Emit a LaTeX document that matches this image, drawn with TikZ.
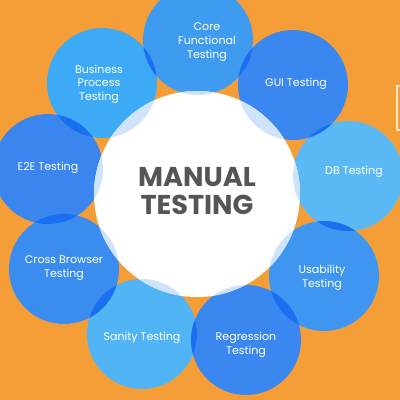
\documentclass[tikz,border=0pt]{standalone}
\usepackage{fontspec}
\setmainfont{Poppins}
\definecolor{bgorange}{HTML}{F59E38}
\definecolor{cCore}{HTML}{3E9BF0}
\definecolor{cBusi}{HTML}{3CAAF5}
\definecolor{cGui}{HTML}{3A87F0}
\definecolor{cDb}{HTML}{5AB9F5}
\definecolor{cUsab}{HTML}{3E96F0}
\definecolor{cRegr}{HTML}{3A87F0}
\definecolor{cSani}{HTML}{50B4F5}
\definecolor{cCross}{HTML}{3A8CEF}
\definecolor{cEtwo}{HTML}{3A86EE}
\definecolor{lensblue}{HTML}{1A6EF0}
\definecolor{paleblue}{HTML}{CFE3FA}
\definecolor{titlegray}{HTML}{555555}

\begin{document}
\begin{tikzpicture}[
  x=0.02cm, y=-0.02cm,
  bubtext/.style={text=white, align=center, inner sep=0pt,
                  font=\fontsize{6.3}{7.8}\selectfont},
  hubtext/.style={text=titlegray, align=center, inner sep=0pt,
                  font=\fontsize{15.5}{15.5}\selectfont\bfseries}
]
\fill[bgorange] (0,0) rectangle (400,400);
\useasboundingbox (0,0) rectangle (400,400);
\draw[white!75!bgorange, line width=0.8pt] (397,86) rectangle (410,130);

% bubble centres
\coordinate (core)  at (198,40);
\coordinate (gui)   at (293,85);
\coordinate (db)    at (348,176);
\coordinate (usab)  at (324,276);
\coordinate (regr)  at (246,340);
\coordinate (sani)  at (142,334);
\coordinate (cross) at (64,269);
\coordinate (etwo)  at (48,169);
\coordinate (busi)  at (102,83);
\coordinate (hub)   at (197,194);

\foreach \n/\c in {core/cCore, gui/cGui, db/cDb, usab/cUsab, regr/cRegr,
                   sani/cSani, cross/cCross, etwo/cEtwo, busi/cBusi}
  \fill[\c] (\n) circle (55);

% darker lens where neighbours overlap
\foreach \a/\b in {busi/core, core/gui, gui/db, db/usab, usab/regr,
                   regr/sani, sani/cross, cross/etwo, etwo/busi}{
  \begin{scope}
    \clip (\a) circle (55);
    \fill[lensblue] (\b) circle (55);
  \end{scope}
}

\fill[white] (hub) circle (103);
\foreach \a in {core, gui, db, usab, regr, sani, cross, etwo, busi}{
  \begin{scope}
    \clip (hub) circle (103);
    \fill[paleblue] (\a) circle (55);
  \end{scope}
}

\node[hubtext] (title) at (197,191) {MANUAL\\TESTING};
\node[bubtext] (coreT)  at (207,42)  {Core\\Functional\\Testing};
\node[bubtext] (busiT)  at (99,84)   {Business\\Process\\Testing};
\node[bubtext] (guiT)   at (296,84)  {GUI Testing};
\node[bubtext] (dbT)    at (354,172) {DB Testing};
\node[bubtext] (usabT)  at (322,278) {Usability\\Testing};
\node[bubtext] (regrT)  at (246,345) {Regression\\Testing};
\node[bubtext] (saniT)  at (142,338) {Sanity Testing};
\node[bubtext] (crossT) at (64,268)  {Cross Browser\\Testing};
\node[bubtext] (etwoT)  at (48,168)  {E2E Testing};
\end{tikzpicture}
\end{document}
